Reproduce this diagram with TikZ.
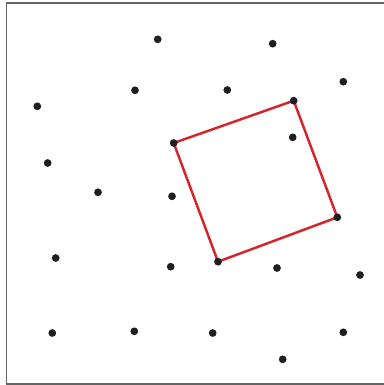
\documentclass[tikz,border=0pt]{standalone}
\usetikzlibrary{backgrounds}
\definecolor{sqred}{RGB}{214,36,43}
\definecolor{framegray}{RGB}{100,100,100}
\begin{document}
\begin{tikzpicture}[x=0.02cm, y=-0.02cm,
        pt/.style={circle, fill=black!88, inner sep=0pt, minimum size=0.155cm},
        frame/.style={draw=framegray, line width=0.85pt},
        square/.style={draw=sqred, line width=1.4pt, line join=round}
    ]
    \useasboundingbox (0,0) rectangle (383,385);

    % Frame
    \draw[frame] (6.5,3) rectangle (390,384);

    % Points
    \foreach \n/\x/\y in {a/157.7/39.3, b/272.7/43.7, c/37.3/106.3, d/135/90.3,
        e/227.3/90, f/343.3/81.7, g/293.7/100.7, h/173.7/143, i/292.7/137.3,
        j/47.7/163, k/98/192.3, l/172/196.3, m/337.3/217.3, n/218/261.7,
        o/55.7/258, p/170.7/266.7, q/277/268, r/360/275, s/52.3/333,
        t/134.3/331.3, u/212.7/333, v/343.3/332.3, w/282.7/359.3}
        \node[pt] (\n) at (\x,\y) {};

    % Square through four points
    \begin{scope}[on background layer]
        \draw[square] (h.center) -- (g.center) -- (m.center) -- (n.center) -- cycle;
    \end{scope}

\end{tikzpicture}
\end{document}
